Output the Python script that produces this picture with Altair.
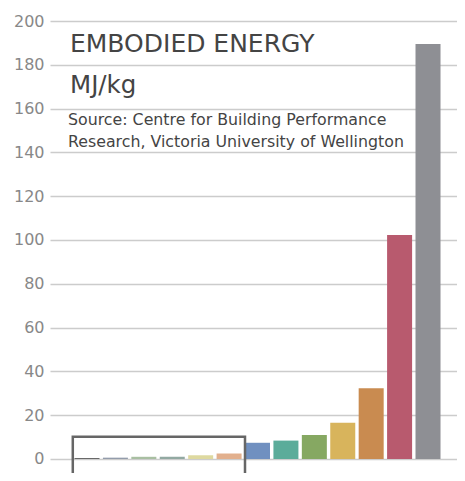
import altair as alt
import pandas as pd

# Bars (left to right); material names are not shown in the picture
materials = ["m1", "m2", "m3", "m4", "m5", "m6", "m7", "m8", "m9", "m10", "m11", "m12", "m13"]
energy = [0.4, 0.6, 1.0, 1.0, 1.7, 2.5, 7.4, 8.4, 11.0, 16.6, 32.3, 102.3, 189.5]
colors = ["#555555", "#939cab", "#a9bfa2", "#92a9a2", "#ded9a0", "#e2b08e",
          "#7090c0", "#5bac9a", "#86a862", "#d8b45c", "#c98b50", "#b85a6e", "#8e8f94"]
y_ticks = [0, 20, 40, 60, 80, 100, 120, 140, 160, 180, 200]

title_text = "EMBODIED ENERGY"
unit_text = "MJ/kg"
source_lines = ["Source: Centre for Building Performance",
                "Research, Victoria University of Wellington"]

half = 0.44
df = pd.DataFrame({
    "material": materials,
    "idx": list(range(len(materials))),
    "energy": energy,
    "color": colors,
})
df["x0"] = df["idx"] - half
df["x1"] = df["idx"] + half

xscale = alt.Scale(domain=[-1.302, 13.02], nice=False, zero=False)
yscale = alt.Scale(domain=[-6.4, 200], nice=False, zero=False)

bars = alt.Chart(df).mark_rect().encode(
    x=alt.X("x0:Q", scale=xscale, axis=None),
    x2="x1:Q",
    y=alt.Y("energy:Q", scale=yscale,
            axis=alt.Axis(values=y_ticks, title=None, grid=True, ticks=False,
                          domain=False, labelFont="DejaVu Sans", labelFontSize=16,
                          labelColor="#888888", labelPadding=6,
                          gridColor="#cccccc", gridWidth=1.5)),
    y2=alt.datum(0),
    color=alt.Color("color:N", scale=None),
)

# highlight box around the small-value bars (first six)
box_df = pd.DataFrame({"x0": [-0.5], "x1": [5.56], "y0": [-8], "y1": [10.2]})
box = alt.Chart(box_df).mark_rect(fill=None, stroke="#666666", strokeWidth=2.5).encode(
    x=alt.X("x0:Q", scale=xscale), x2="x1:Q",
    y=alt.Y("y0:Q", scale=yscale), y2="y1:Q",
)

def label(text, px, py, size):
    return alt.Chart(pd.DataFrame({"t": [text]})).mark_text(
        align="left", baseline="alphabetic", font="DejaVu Sans",
        fontSize=size, color="#444444"
    ).encode(text="t:N", x=alt.value(px), y=alt.value(py))

texts = (label(title_text, 20, 31, 25) + label(unit_text, 20, 72, 24.5)
         + label(source_lines[0], 18, 104, 15.8) + label(source_lines[1], 18, 126, 15.8))

chart = (bars + box + texts).properties(
    width=407, height=452,
    autosize=alt.AutoSizeParams(type="none"),
    padding={"left": 42, "top": 13, "right": 0, "bottom": 0},
).configure_view(stroke=None)

chart.save("out.html", embed_options={"renderer": "svg", "actions": False})
